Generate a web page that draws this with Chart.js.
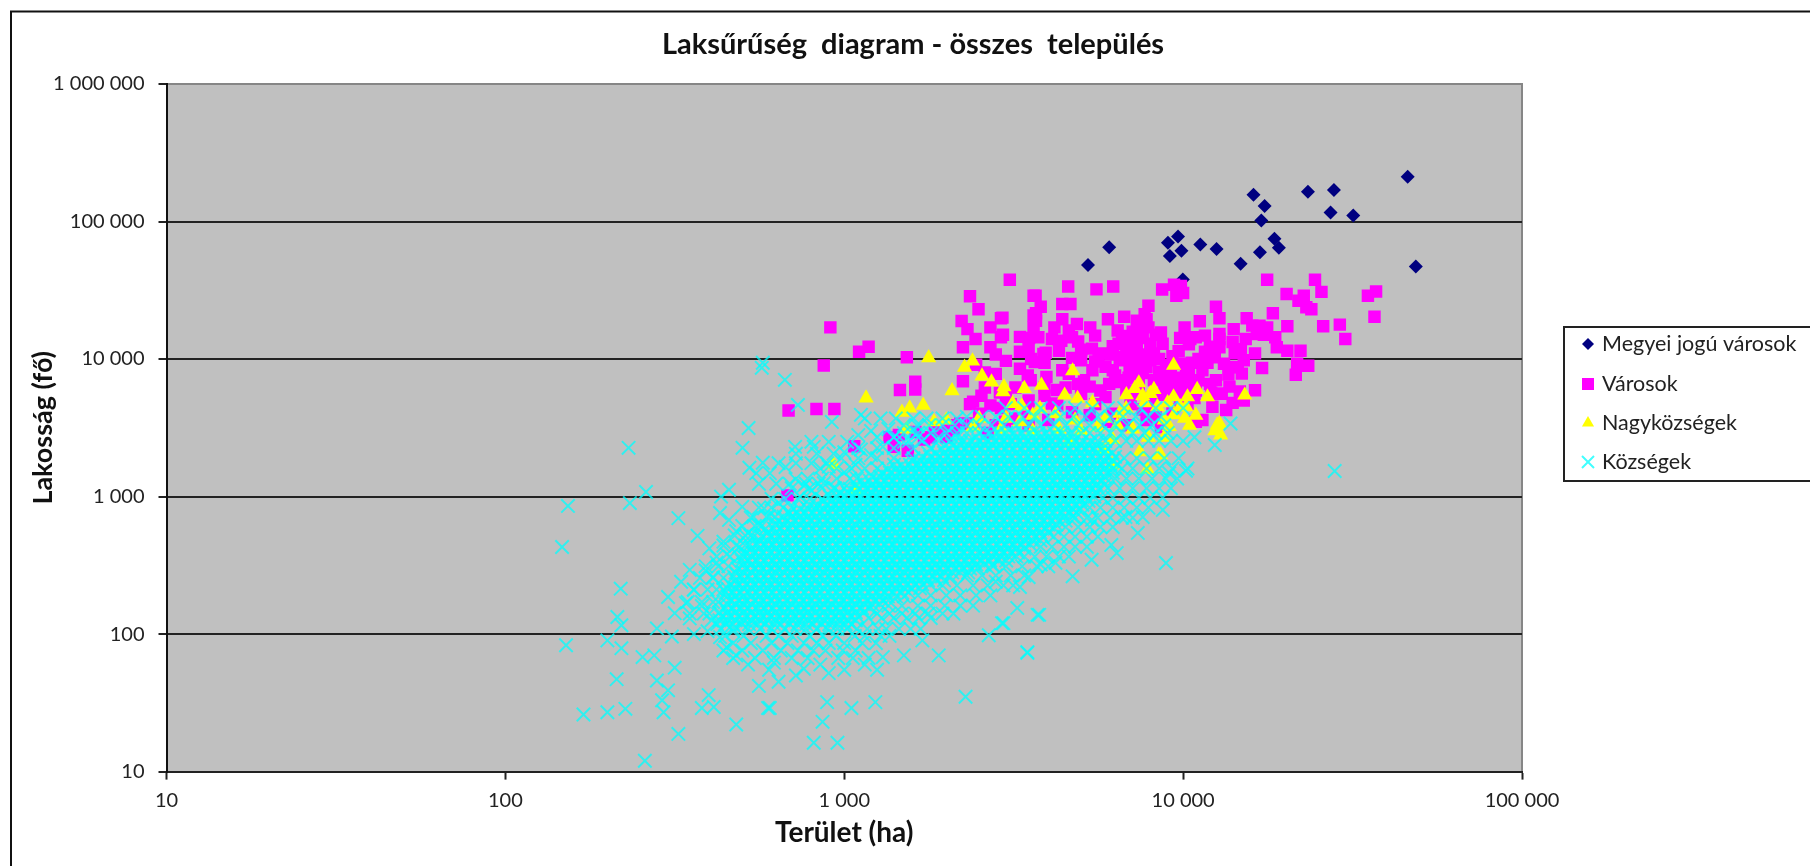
<!DOCTYPE html>
<html>
<head>
<meta charset="utf-8">
<title>Laksűrűség diagram</title>
<script src="https://cdn.jsdelivr.net/npm/chart.js@4/dist/chart.umd.js"></script>
<style>
html, body { margin: 0; padding: 0; background: #fff; overflow: hidden; }
canvas { display: block; }
</style>
</head>
<body>
<canvas id="chart1" width="1810" height="866"></canvas>
<script>
const chartTitle = 'Laksűrűség  diagram - összes  település';
const xAxisTitle = 'Terület (ha)';
const yAxisTitle = 'Lakosság (fő)';
const xTickValues = [10, 100, 1000, 10000, 100000];
const xTickLabels = ['10', '100', '1 000', '10 000', '100 000'];
const yTickValues = [10, 100, 1000, 10000, 100000, 1000000];
const yTickLabels = ['10', '100', '1 000', '10 000', '100 000', '1 000 000'];
const seriesNames = ['Megyei jogú városok', 'Városok', 'Nagyközségek', 'Községek'];

// [terület, lakosság]
const megyeiJogu = [[46000,212000],[16130,156700],[23350,164800],[27860,169400],[17400,129800],[27230,116200],[31770,110500],
  [17010,101700],[9660,77900],[9020,70100],[18600,74900],[19170,64500],[6050,64900],[11240,68200],[12550,63100],[9885,61400],
  [9140,56200],[16850,59700],[14780,49400],[5240,48300],[48600,47000],[9980,37900]];

const varosok = [[3080,37700],[3670,28900],[4580,33700],[5550,32100],[6220,33700],[4400,25100],[4650,25100],[8670,32000],[9400,34700],
  [9850,34000],[9550,28900],[10000,30200],[17700,37700],[24500,37700],[25600,30800],[20200,29700],[22700,28900],[21900,26500],
  [23100,23800],[23900,23000],[35100,28900],[37100,31000],[36700,20300],[18400,21500],[15400,19800],[12800,19800],[12500,24000],
  [11200,18800],[7900,24400],[6700,20300],[7700,21200],[7300,19000],[7800,19500],[25900,17300],[29000,17800],[30100,14000],
  [20300,17300],[16000,17500],[16800,17500],[17700,17000],[16500,15200],[17300,15000],[18700,14400],[18900,12200],[20300,11500],
  [22200,11500],[16300,11000],[14000,13300],[12800,12200],[12200,10300],[12800,15200],[12800,14000],[10100,17000],[10500,14000],
  [10900,14400],[21700,9250],[23400,8950],[21500,7690],[17100,8600],[16300,5930],[14900,7830],[14300,8750],[13200,9250],
  [6410,16100],[5320,17000],[4860,18000],[4170,17000],[4600,16100],[3620,20700],[3620,17000],[3740,14400],[3500,12200],[2900,19800],
  [2900,14400],[4370,13600],[4700,14400],[5380,11900],[5630,10300],[3870,10900],[3650,9500],[5000,9800],[6450,12900],[6800,11500],
  [7300,12900],[7500,16100],[8000,12900],[8700,12900],[7300,10300],[6500,9800],[8000,9800],[6950,8750],[6200,8300],[5400,8300],
  [3950,7400],[3550,7000],[4600,7800],[4250,5950],[5300,6300],[6050,6600],[8200,7000],[9200,8300],[9850,9250],[10400,7800],
  [11400,8300],[12000,6600],[12800,5600],[13400,4260],[12500,7000],[10900,5900],[9800,6300],[8800,6300],[7300,5600],[6200,4000],
  [5900,5300],[4100,4750],[5000,5600],[10900,3500],[910,17000],[870,8970],[1106,11300],[1180,12300],[685,4220],[828,4330],[935,4330],
  [680,1020],[1530,10300],[1620,6850],[1620,6000],[1460,5950],[1070,2320],[1360,2700],[1540,2150],[2350,28600],[2490,23000],
  [2310,16500],[2220,18900],[2700,17000],[2930,20000],[2240,12200],[2440,14000],[2700,12200],[2940,15000],[3510,14200],[3680,19000],
  [3680,21500],[3620,28900],[3560,10000],[3930,11100],[4100,14000],[2240,6900],[2450,9100],[2540,5400],[2350,4700],[2880,5700],
  [3200,6200],[3480,7600],[3900,6200],[4400,8300],[2980,3500],[2650,2900],[3480,4100],[4250,4600],[2100,3100],[1900,3000],[1720,2600],
  [2400,3400],[2900,4400],[3500,3300],[4000,3600],[4700,4100],[5300,3900],[6000,3500],[6800,3300],[7800,3600],[8600,3200],[9300,4300],
  [10300,4700],[11400,3600],[12200,4500],[14000,4800],[9800,5300],[7000,4700],[8000,4500],[5500,4700],[2600,6200],[2800,7800],
  [5100,7000],[6900,7300],[7600,7900],[3100,4700],[15100,5000],
  [6100,10800],[6600,10400],[7000,9800],[7400,9400],[7700,10800],[7200,11800],[6900,13600],[7600,14200],[8200,11000],[8500,10000],
  [8900,9000],[9300,10500],[9700,11400],[9000,7800],[8500,8100],[7800,8700],[7200,7800],[6700,7000],[6300,7600],[5900,8800],[5500,9600],
  [5800,11000],[6200,12400],[6600,14700],[7100,15800],[7900,17000],[8300,15000],[5000,11700],[4700,10200],[4300,11500],[3900,9400],
  [3300,8500],[3000,9700],[2800,10800],[2600,8000],[3300,11300],[8700,7300],[9300,6900],[9800,7300],[10200,8600],[10600,9400],[11100,10000],
  [11600,11300],[12000,12300],[12400,10800],[11800,9400],[11100,7000],[10300,6400],[9900,5600],[9300,6000],[8700,5500],[8000,5200],[7400,6500],
  [6800,5900],[6300,6800],[5700,5900],[4900,6600],[4500,6200],[3900,5400],[3500,5000],[3000,5300],[2700,4600],[2400,4900],[7600,4300],
  [8300,3900],[13000,5600],[13700,6300],[13600,7700],[14500,8700],[15100,9800],[14800,11800],[6000,19500],[5500,14800],[4900,13400],
  [4400,19500],[3800,24000],[3300,14500],[10400,12800],[11600,14800],[9800,14200],[8600,15600],[14100,16500],[15300,14000],[14200,11000],
  [14700,5800],[12100,5700],[10800,5200],[1400,2300],[1620,2950],[1850,3100],[2050,3300],[2200,3400],[1800,2700],[2500,4000],[2800,3300],
  [3200,3700],[1450,2800],[2000,2700]];

const nagykozsegek = [[1775,10200],[2265,8700],[2390,9680],[2550,7530],[2720,6800],[2940,5770],[2080,5870],[1160,5200],[1480,4100],
  [1560,4400],[1710,4600],[1840,3500],[1530,3100],[930,1700],[1090,1100],[4720,8190],[9370,9000],[7200,6100],[8000,5600],[9370,5300],
  [10300,5300],[11800,5300],[15200,5460],[2960,6280],[3400,6100],[3820,6450],[3140,4750],[3340,4550],[3780,4370],[4470,5460],[4880,5170],
  [6490,4020],[6790,4370],[9400,3920],[9100,3220],[10450,3300],[12800,3400],[12900,2800],[8580,2010],[7450,2110],[8470,2000],[7850,1570],
  [6170,1700],[12600,3310],[7600,5400],[8200,6000],[5400,4800],[5900,3700],[4300,3100],[5000,3000],[6200,2600],[3600,3000],[7100,3100],
  [8800,3600],[10100,3700],[3300,3500],[4600,2500],[2500,3700],[2900,3100],[5800,2200],
  [7400,6700],[6800,5500],[7700,4800],[8400,4500],[9000,4800],[9800,4500],[10900,3900],[8800,2700],[7900,2700],[6400,3300],[5600,3200],
  [4800,3600],[4200,4000],[3600,3900],[3000,3700],[2400,3200],[2000,3600],[11000,6000],[10200,4500],[12400,3000]];

// scattered crosses around the blob, one by one
const kozsegekRitka = [[153,855],[231,2260],[233,897],[260,1080],[147,430],[324,697],[369,518],[522,3150],[501,2260],[571,8630],[575,9400],
  [668,7060],[730,4640],[813,2300],[716,2300],[919,3490],[1120,3930],[525,1620],[575,1760],[550,1480],[603,1480],[671,1640],[718,1340],
  [457,1120],[433,1000],[500,842],[430,760],[457,676],[350,293],[219,214],[214,133],[220,116],[200,90],[220,79],[151,83],[213,47],[170,26],
  [200,27],[226,28.6],[258,12],[324,18.8],[293,27],[290,33],[280,46],[302,39],[254,68],[275,70],[316,57],[302,186],[341,168],[316,142],
  [280,110],[310,96],[398,36],[380,29],[412,29.5],[480,22],[596,29],[603,29],[813,16.2],[955,16.2],[863,23],[890,32],[1050,29],[1235,32],
  [2280,35],[1900,70],[3470,73],[2670,98],[3760,138],[2920,120],[28000,1535],[8900,329],[8710,800],[7350,544],[6370,388],[6140,445],
  [5370,347],[4720,263],[3720,138],[3240,155],[3470,74],[2950,120],[10200,1540],[9100,1480],[12400,2370],[10800,2700],[13800,3400],[7600,710],
  [6760,710],[5380,676],[330,240],[360,210],[390,290],[420,330],[380,160],[350,130],[395,105],[430,95],[470,105],[360,100],[410,260],
  [450,380],[490,430],[440,470],[400,420],[520,540],[480,560],[560,620],[530,700],[600,720],[580,820],[640,900],[690,760],[740,1000],
  [800,1100],[760,1200],[870,1250],[930,1150],[1000,1500],[1080,1700],[900,1650],[1200,2000],[1300,2300],[1120,2200],[1000,2100],[1400,2700],
  [1500,2500],[1600,3000],[1350,3100],[1200,3000],[1100,2800],[1150,60],[1250,55],[1000,55],[850,60],[720,50],[640,45],[560,42],[600,55],
  [520,60],[480,70],[450,80],[1300,68],[1500,70],[1700,90],[620,62],[760,56],[900,52],[2800,240],[3300,220],[3500,260],[3800,320],[4200,330]];

// the dense blob cannot be read point by point, so it is estimated as rows: [lakosság, terület, terület, ...]
const kozsegekSuru = [
  [118, 422,448,470,499,524,556,584,620,651,692,727,772,811,860,903,958,1010,1048],
  [126, 406,428,452,478,504,532,563,594,628,662,700,739,781,824,870,919,970,1025,1082],
  [135, 434,457,485,510,541,568,603,634,672,707,750,789,838,880,933,981,1040,1094],
  [144, 428,452,478,504,532,563,594,628,662,700,739,781,824,870,919,970,1025,1082,1143],
  [154, 446,470,498,523,557,585,618,655,688,731,768,815,856,908,955,1013,1065,1129,1190],
  [165, 452,478,504,532,563,594,628,662,700,739,781,824,870,919,970,1025,1082,1143,1207,1275],
  [176, 458,486,509,542,569,604,635,673,708,751,790,837,881,934,982,1039,1095,1160,1222,1294,1350],
  [188, 452,478,504,532,563,594,628,662,700,739,781,824,870,919,970,1025,1082,1143,1207,1275,1346,1422,1501],
  [201, 447,472,496,526,554,587,618,654,689,730,769,814,857,907,956,1012,1066,1128,1189,1258,1326,1403,1482,1550],
  [215, 452,478,504,532,563,594,628,662,700,739,781,824,870,919,970,1025,1082,1143,1207,1275,1346,1422,1501,1585,1674],
  [230, 460,483,512,539,571,601,637,670,710,748,792,835,883,930,984,1037,1097,1157,1224,1291,1365,1439,1522,1605,1697,1790],
  [246, 478,504,532,563,594,628,662,700,739,781,824,870,919,970,1025,1082,1143,1207,1275,1346,1422,1501,1585,1674,1767,1867,1971],
  [262, 472,498,524,556,585,620,652,691,728,771,812,859,905,958,1010,1068,1126,1191,1256,1328,1401,1481,1562,1652,1742,1842,1943,2054],
  [281, 478,504,532,563,594,628,662,700,739,781,824,870,919,970,1025,1082,1143,1207,1275,1346,1422,1501,1585,1674,1767,1867,1971,2082,2198,2322],
  [300, 484,510,541,569,603,635,672,708,750,790,837,881,932,982,1040,1095,1159,1222,1293,1363,1441,1520,1607,1695,1792,1890,1998,2108,2228,2351,2480],
  [321, 504,532,563,594,628,662,700,739,781,824,870,919,970,1025,1082,1143,1207,1275,1346,1422,1501,1585,1674,1767,1867,1971,2082,2198,2322,2452,2589,2734],
  [343, 498,524,555,586,619,653,690,729,770,813,858,906,957,1011,1067,1127,1190,1257,1327,1402,1480,1563,1651,1743,1841,1944,2053,2168,2290,2418,2553,2696,2847,3007],
  [367, 504,532,563,594,628,662,700,739,781,824,870,919,970,1025,1082,1143,1207,1275,1346,1422,1501,1585,1674,1767,1867,1971,2082,2198,2322,2452,2589,2734,2887,3049,3219],
  [392, 511,540,570,602,636,671,709,749,791,836,882,931,983,1038,1096,1158,1223,1292,1364,1440,1521,1606,1696,1791,1891,1997,2109,2227,2352,2484,2623,2770,2925,3089,3262],
  [419, 532,563,594,628,662,700,739,781,824,870,919,970,1025,1082,1143,1207,1275,1346,1422,1501,1585,1674,1767,1867,1971,2082,2198,2322,2452,2589,2734,2887,3049,3219,3400],
  [448, 526,555,587,618,654,689,729,770,813,858,905,957,1012,1066,1128,1190,1257,1327,1403,1480,1563,1652,1743,1841,1945,2053,2169,2290,2418,2554,2696,2846,3008,3175,3353,3541],
  [479, 563,594,628,662,700,739,781,824,870,919,970,1025,1082,1143,1207,1275,1346,1422,1501,1585,1674,1767,1867,1971,2082,2198,2322,2452,2589,2734,2887,3049,3219,3400,3591,3791],
  [512, 541,570,603,635,672,708,750,790,837,881,932,983,1039,1096,1159,1222,1293,1364,1441,1520,1607,1696,1792,1890,1998,2108,2228,2352,2484,2623,2771,2925,3090,3261,3446,3637,3843],
  [547, 594,628,662,700,739,781,824,870,919,970,1025,1082,1143,1207,1275,1346,1422,1501,1585,1674,1767,1867,1971,2082,2198,2322,2452,2589,2734,2887,3049,3219,3400,3591,3791,4003],
  [585, 586,620,652,691,728,771,812,859,905,958,1010,1068,1126,1191,1256,1328,1401,1481,1562,1652,1742,1842,1943,2054,2167,2291,2417,2554,2695,2848,3006,3176,3352,3542,3738,3949,4170],
  [625, 628,662,700,739,781,824,870,919,970,1025,1082,1143,1207,1275,1346,1422,1501,1585,1674,1767,1867,1971,2082,2198,2322,2452,2589,2734,2887,3049,3219,3400,3591,3791,4003,4227],
  [668, 636,670,710,748,792,835,883,930,984,1037,1097,1157,1224,1291,1365,1439,1522,1605,1697,1790,1892,1996,2110,2226,2353,2483,2624,2769,2926,3088,3263,3444,3639,3841,4058,4283,4500],
  [714, 662,700,739,781,824,870,919,970,1025,1082,1143,1207,1275,1346,1422,1501,1585,1674,1767,1867,1971,2082,2198,2322,2452,2589,2734,2887,3049,3219,3400,3591,3791,4003,4227,4465,4715],
  [763, 690,729,770,813,858,906,957,1011,1067,1127,1190,1257,1327,1402,1480,1563,1651,1743,1841,1944,2053,2168,2290,2418,2553,2696,2847,3007,3175,3353,3541,3739,3948,4169,4403,4650,4850],
  [816, 739,781,824,870,919,970,1025,1082,1143,1207,1275,1346,1422,1501,1585,1674,1767,1867,1971,2082,2198,2322,2452,2589,2734,2887,3049,3219,3400,3591,3791,4003,4227,4465,4715,4979],
  [872, 791,836,882,931,983,1038,1096,1158,1223,1292,1364,1440,1521,1606,1696,1791,1891,1997,2109,2227,2352,2484,2623,2770,2925,3089,3262,3445,3638,3842,4057,4284,4524,4778,5045],
  [932, 870,919,970,1025,1082,1143,1207,1275,1346,1422,1501,1585,1674,1767,1867,1971,2082,2198,2322,2452,2589,2734,2887,3049,3219,3400,3591,3791,4003,4227,4465,4715,4979,5258],
  [997, 906,957,1011,1067,1127,1190,1257,1327,1402,1480,1563,1651,1743,1841,1944,2053,2168,2290,2418,2553,2696,2847,3007,3175,3353,3541,3739,3948,4169,4403,4650,4910,5185,5476],
  [1066, 970,1025,1082,1143,1207,1275,1346,1422,1501,1585,1674,1767,1867,1971,2082,2198,2322,2452,2589,2734,2887,3049,3219,3400,3591,3791,4003,4227,4465,4715,4979,5258,5553],
  [1140, 1038,1096,1158,1223,1292,1364,1440,1521,1606,1696,1791,1891,1997,2109,2227,2352,2484,2623,2770,2925,3089,3262,3445,3638,3842,4057,4284,4524,4778,5045,5328,5626],
  [1219, 1082,1143,1207,1275,1346,1422,1501,1585,1674,1767,1867,1971,2082,2198,2322,2452,2589,2734,2887,3049,3219,3400,3591,3791,4003,4227,4465,4715,4979,5258,5553,5863],
  [1303, 1127,1190,1257,1327,1402,1480,1563,1651,1743,1841,1944,2053,2168,2290,2418,2553,2696,2847,3007,3175,3353,3541,3739,3948,4169,4403,4650,4910,5185,5476,5782],
  [1393, 1207,1275,1346,1422,1501,1585,1674,1767,1867,1971,2082,2198,2322,2452,2589,2734,2887,3049,3219,3400,3591,3791,4003,4227,4465,4715,4979,5258,5553,5863],
  [1489, 1292,1364,1440,1521,1606,1696,1791,1891,1997,2109,2227,2352,2484,2623,2770,2925,3089,3262,3445,3638,3842,4057,4284,4524,4778,5045,5328,5626,5942,6200],
  [1592, 1346,1422,1501,1585,1674,1767,1867,1971,2082,2198,2322,2452,2589,2734,2887,3049,3219,3400,3591,3791,4003,4227,4465,4715,4979,5258,5553,5863,6191],
  [1702, 1402,1480,1563,1651,1743,1841,1944,2053,2168,2290,2418,2553,2696,2847,3007,3175,3353,3541,3739,3948,4169,4403,4650,4910,5185,5476,5782,6106,6400],
  [1820, 1585,1674,1767,1867,1971,2082,2198,2322,2452,2589,2734,2887,3049,3219,3400,3591,3791,4003,4227,4465,4715,4979,5258,5553,5863,6191],
  [1945, 1696,1791,1891,1997,2109,2227,2352,2484,2623,2770,2925,3089,3262,3445,3638,3842,4057,4284,4524,4778,5045,5328,5626,5942,6300],
  [2080, 1767,1867,1971,2082,2198,2322,2452,2589,2734,2887,3049,3219,3400,3591,3791,4003,4227,4465,4715,4979,5258,5553,5863,6191],
  [2223, 1944,2053,2168,2290,2418,2553,2696,2847,3007,3175,3353,3541,3739,3948,4169,4403,4650,4910,5185,5476,5782,6000],
  [2375, 2082,2198,2322,2452,2589,2734,2887,3049,3219,3400,3591,3791,4003,4227,4465,4715,4979,5258,5553],
  [2540, 2227,2352,2484,2623,2770,2925,3089,3262,3445,3638,3842,4057,4284,4524,4778,5045,5328],
  [2715, 2452,2589,2734,2887,3049,3219,3400,3591,3791,4003,4227,4465,4715],
  [2900, 2696,2847,3007,3175,3353,3541,3739,3948,4169,4403],
  // the thinner edge of the blob
  [2900, 1500,1650,1800,2000,2150,2300,2500,4700,5000,5300,5700,6100,6600,7100,7700,8300,9000],
  [2540, 1550,1700,1900,2050,5600,5900,6300,6800,7300,7900,8500,9200,10000],
  [3300, 1500,1640,1780,1950,2120,2300,2500,2720,2960,3220,3500,3800,4150,4500,4900,5300,5800,6300,6850,7450,8100,8800],
  [3800, 2300,2550,2800,3050,3350,3650,4000,4350,4750,5150,5600,6100,6650,7250,7900,8600],
  [3700, 1150,1280,1420,1600,1750,1950,2150],
  [4400, 3000,3400,3800,4300,4800,5400,6000,6700,7500,8300,9200,10000],
  [109, 432,470,520,565,610,665,715,770,830,890,955,1020,1090,1170,1260,1330,1450,1570,1680],
  [97, 445,505,590,640,700,790,865,945,1075,1150,1280,1360],
  [86, 470,530,610,680,760,830,900,1000,1130,1240],
  [76, 440,500,575,650,730,810,880,990,1080],
  [67, 470,545,620,700,780,960,1060,1180],
  [131, 1180,1290,1400,1530,1660,1800],
  [141, 350,385,400,1250,1360,1480,1620,1770,1950,2100],
  [161, 1350,1480,1650,1800,1980,2200,2400],
  [171, 345,380,410,425],
  [191, 1650,1800,2000,2200,2450,2700],
  [211, 360,395,420,440],
  [226, 1950,2150,2400,2650,2950,3150],
  [256, 375,410,440],
  [267, 2300,2550,2800,3100,3400],
  [311, 390,425,455,2750,3000,3350,3700,4000],
  [366, 420,460,490,3400,3650,3950,4300,4600],
  [431, 3800,4100,4450,4800,5200],
  [441, 440,480,510],
  [511, 4150,4450,4800,5200,5600],
  [521, 475,510,530],
  [601, 4500,4900,5300,5700,6200],
  [611, 500,545,570],
  [701, 4800,5200,5600,6100,6600,7100],
  [711, 540,590,625],
  [831, 560,610,660,700,5300,5700,6200,6700,7300,7900],
  [961, 610,670,730,790,860],
  [981, 5800,6200,6800,7400,8000,8700],
  [1151, 700,790,860,940,1000,6000,6500,7100,7800,8500,9200],
  [1240, 560,630,690,770,840],
  [1351, 780,860,950,1040,1090,6300,6800,7400,8100,8900,9600],
  [1601, 850,950,1050,1150,1250,6600,7100,7800,8500,9300,10300],
  [1750, 640,720,800,890],
  [1901, 980,1100,1250,1400,1600,6700,7300,8000,8800,9700],
  [2050, 720,830,930],
  [2251, 1100,1250,1400,1600,1800],
  [2500, 800,900,1020],
  [2701, 1250,1400,1650,1900,2150]
];

function pairsToPoints(pairs) {
  return pairs.map(p => ({ x: p[0], y: p[1] }));
}
function rowsToPoints(rows) {
  const out = [];
  rows.forEach(r => r.slice(1).forEach(v => out.push({ x: v, y: r[0] })));
  return out;
}

const font = 'Lato, "Noto Sans", sans-serif';
const markers = [
  { style: 'rectRot', radius: 7, legendRadius: 6, fill: '#000080', stroke: '#000080', width: 0 },
  { style: 'rect', radius: 8.8, legendRadius: 8.5, fill: '#ff00ff', stroke: '#ff00ff', width: 0 },
  { style: 'triangle', radius: 8.8, legendRadius: 7, fill: '#ffff00', stroke: '#ffff00', width: 0 },
  { style: 'crossRot', radius: 9.5, legendRadius: 8.5, fill: 'transparent', stroke: 'rgba(0,255,255,0.75)', width: 2 }
];
const pointLists = [
  pairsToPoints(megyeiJogu),
  pairsToPoints(varosok),
  pairsToPoints(nagykozsegek),
  pairsToPoints(kozsegekRitka).concat(rowsToPoints(kozsegekSuru))
];

// grey plot background, the grey top/right edge and the frame round the picture
const plotBackground = {
  id: 'plotBackground',
  afterLayout(chart) {
    // title is centred on the whole picture, not on the plot
    chart.titleBlock.left = 16;
    chart.titleBlock.right = 1810;
  },
  beforeDraw(chart) {
    const { ctx, chartArea: a } = chart;
    ctx.save();
    ctx.fillStyle = '#c0c0c0';
    ctx.fillRect(a.left, a.top, a.width, a.height);
    ctx.strokeStyle = '#868686';
    ctx.lineWidth = 2;
    ctx.beginPath();
    ctx.moveTo(a.left, a.top);
    ctx.lineTo(a.right, a.top);
    ctx.lineTo(a.right, a.bottom);
    ctx.stroke();
    ctx.strokeStyle = '#111';
    ctx.beginPath();
    ctx.moveTo(11, 866);
    ctx.lineTo(11, 11.5);
    ctx.lineTo(1810, 11.5);
    ctx.stroke();
    ctx.restore();
  }
};

// excel style legend, a framed box that runs off the right edge
const boxLegend = {
  id: 'boxLegend',
  afterDraw(chart) {
    const ctx = chart.ctx;
    const rowY = [344, 384, 423, 462];
    ctx.save();
    ctx.strokeStyle = '#222';
    ctx.lineWidth = 2;
    ctx.strokeRect(1564, 327, 300, 154);
    ctx.font = '21.5px ' + font;
    ctx.textBaseline = 'middle';
    seriesNames.forEach((name, i) => {
      const m = markers[i];
      ctx.fillStyle = m.fill;
      ctx.strokeStyle = m.stroke;
      ctx.lineWidth = m.width;
      Chart.helpers.drawPoint(ctx, { pointStyle: m.style, rotation: 0, radius: m.legendRadius, borderWidth: m.width }, 1588, rowY[i]);
      ctx.fillStyle = '#222';
      ctx.fillText(name, 1602, rowY[i]);
    });
    ctx.restore();
  }
};

new Chart(document.getElementById('chart1'), {
  type: 'scatter',
  data: {
    datasets: seriesNames.map((name, i) => ({
      label: name,
      data: pointLists[i],
      order: 3 - i,
      pointStyle: markers[i].style,
      pointRadius: markers[i].radius,
      pointHoverRadius: markers[i].radius,
      pointBackgroundColor: markers[i].fill,
      pointBorderColor: markers[i].stroke,
      pointBorderWidth: markers[i].width,
      showLine: false
    }))
  },
  plugins: [plotBackground, boxLegend],
  options: {
    responsive: false,
    animation: false,
    layout: { padding: { left: 16, right: 288 } },
    plugins: {
      legend: { display: false },
      tooltip: { enabled: false },
      title: {
        display: true,
        text: chartTitle,
        color: '#111',
        font: { family: font, size: 29, weight: 'bold', lineHeight: 1.2 },
        padding: { top: 27.6, bottom: 21.6 }
      }
    },
    scales: {
      x: {
        type: 'logarithmic',
        min: 10,
        max: 100000,
        afterFit(scale) { scale.height = 94.4; },
        afterBuildTicks(scale) { scale.ticks = xTickValues.map(v => ({ value: v })); },
        title: {
          display: true,
          text: xAxisTitle,
          color: '#111',
          font: { family: font, size: 28, weight: 'bold', lineHeight: 1.2 },
          padding: { top: 0, bottom: 16 }
        },
        border: { color: '#222', width: 2 },
        grid: { drawOnChartArea: false, color: '#222', tickColor: '#222', tickLength: 8, tickWidth: 2 },
        ticks: {
          color: '#222',
          padding: 9,
          autoSkip: false,
          maxRotation: 0,
          font: { family: font, size: 20 },
          callback: (v, i) => xTickLabels[i]
        }
      },
      y: {
        type: 'logarithmic',
        min: 10,
        max: 1000000,
        afterFit(scale) { scale.width = 150.5; },
        afterBuildTicks(scale) { scale.ticks = yTickValues.map(v => ({ value: v })); },
        title: {
          display: true,
          text: yAxisTitle,
          color: '#111',
          font: { family: font, size: 27, weight: 'bold', lineHeight: 1.2 },
          padding: { top: 10.8, bottom: 0 }
        },
        border: { color: '#111', width: 2 },
        grid: {
          color: ctx => (ctx.tick && ctx.tick.value === 1000000 ? '#868686' : '#222'),
          tickColor: '#222',
          lineWidth: 2,
          tickLength: 8,
          tickWidth: 2
        },
        ticks: {
          color: '#222',
          padding: 14,
          autoSkip: false,
          font: { family: font, size: 20 },
          callback: (v, i) => yTickLabels[i]
        }
      }
    }
  }
});
</script>
</body>
</html>
